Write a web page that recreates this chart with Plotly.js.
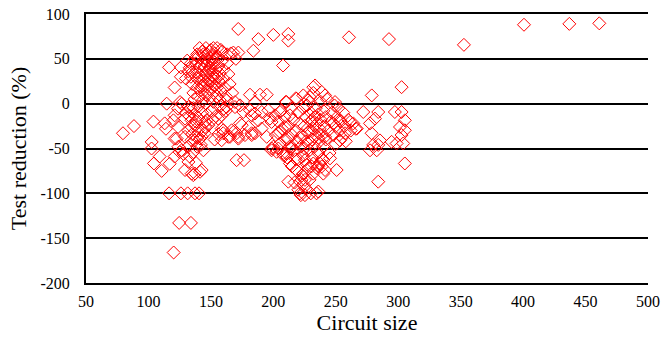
<!DOCTYPE html>
<html>
<head>
<meta charset="utf-8">
<script src="https://cdn.plot.ly/plotly-3.0.1.min.js"></script>
<style>html,body{margin:0;padding:0;background:#fff}#chart{width:664px;height:337px}</style>
</head>
<body>
<div id="chart"></div>
<script>
// [circuit size, test reduction %]
const leftScatter = [[79.6,-33],[88.4,-25],[102.5,-50],[104,-20],[104.4,-66.7],[109,-59],[110.6,-75],[113,-22],[114,-28],[116.5,-100],[117,-67],[121,-39],[121,-59],[125,-54],[126,-100],[120.2,-166],[124.6,-133],[134,-133],[116.5,40.5],[126,40.5],[121,18],[126,30],[114.6,0],[126.6,0],[121,-13],[102.6,-42.7],[120,-18.6],[123.7,-26],[129.3,-16.7],[134.5,-18.6],[137.3,-24],[143.9,-29.7],[146.6,-18.6],[134.5,-40.8],[141.3,-38.9],[129.3,-37],[122.6,-39],[126.6,-52],[129.3,-74],[134.6,-78],[137.3,-78],[141.3,-76],[142.6,-74],[132,-65],[133,-59],[128,-56],[124,-48],[131.7,-48],[137,-41],[142.6,-37],[145.3,-26],[134.6,-26],[139.6,-30],[131.4,-100],[137.3,-100],[140.5,-100],[135.9,-79.7],[123.7,-5.6],[132,-3.8],[125.3,1.8],[158.6,-27.8],[155.9,-16.7],[162.6,-3.8],[169.3,-3.8],[166.6,-29.7],[164,-37],[170.6,-33],[158.6,-40.8],[162.6,3.7],[169.3,1.8]];
const leftDense = [[130,-10],[132,-30],[133,-14],[135,-34],[137,-12],[138,-20],[139,-38],[140,-16],[142,-46],[143,-10],[145,-33],[147,-12],[148,-24],[150,-8],[151,-18],[153,-40],[154,-14],[156,-34],[136,-54],[144,-52],[138,-66],[139,-48],[134,-5]];
const upperCluster = [[131,48],[133,40],[134,30],[135,22],[136,12],[137,5],[138,45],[138,35],[139,28],[139,18],[140,8],[140,52],[141,42],[141,32],[142,24],[142,15],[143,3],[143,58],[144,48],[144,38],[145,30],[145,20],[146,10],[146,0],[147,55],[147,44],[148,36],[148,26],[149,16],[149,6],[150,60],[150,50],[150,40],[151,32],[151,22],[152,12],[152,2],[153,56],[153,46],[154,38],[154,28],[155,18],[155,8],[156,52],[156,42],[157,34],[157,24],[158,14],[158,-2],[159,58],[159,48],[160,38],[160,28],[161,18],[162,8],[163,55],[163,45],[164,33],[165,22],[166,56],[167,12],[168,57],[170,50],[172,57],[144,55],[146,62],[149,58],[152,62],[155,62],[158,60],[137,50],[135,35],[136,-5],[140,-3],[143,20],[147,14],[150,25],[153,20],[156,30],[145,42],[148,48],[151,45],[154,52],[157,4],[160,-6],[162,-8],[141,62],[139,55],[134,45],[132,36],[130,28],[146,34],[149,40],[152,30],[147,22],[151,52],[144,26]];
const middleScatter = [[171.9,83.3],[188,72],[184,59],[200,76.7],[212,77.8],[212,70.3],[207.8,42.6],[181.3,10],[189.3,10],[194.7,10],[185.3,1.8],[210.6,1.8],[218.6,5.6],[224,9.2],[232,18.4],[229.3,7.3],[201.3,-13],[205.3,-9.3],[197.3,-16.7],[182.7,-13],[176,-9.3],[173.3,-1.9],[158.6,-13],[145.3,-20.4],[159.9,-29.7],[168,-31.5],[174.7,-24],[185.3,-33],[190.6,-27.8],[194.7,-37],[205.3,-31.5],[213.3,-13],[170.6,-63],[176.5,-63],[159.9,-33],[165.3,-37],[172,-39],[177.3,-35],[182.7,-35],[198.7,-50],[204,-50],[210.6,-55.6],[213.3,-66.7],[212,-87],[221.3,-87],[225.3,-85],[221.3,-100],[225.3,-102],[234.6,-100],[218.6,-74],[224,-78],[228,-72],[232,-66.7],[236,-70],[181.3,-7.4],[185.3,-11],[190.7,-9.3],[196,-7.4],[173.3,-22],[180,-26],[188,-18.6],[198.6,-20.4],[171.9,-37],[182.6,-33],[204,-33],[209.3,-26],[212,-39],[214.6,-48],[198.6,-52],[202.6,-53.7],[208,-57.4],[220,-96],[222.6,-85],[233.4,20.3],[238.8,13],[241.4,-74],[237.3,-66.7],[230.6,-70],[225.3,-63],[245.4,-61]];
const rightDense = [[200,-48],[202,-35],[204,-20],[205,-45],[206,-8],[207,-28],[208,-55],[209,-15],[210,-40],[210,2],[211,-60],[212,-25],[213,-48],[214,-5],[215,-35],[215,-70],[216,-18],[217,-52],[218,-30],[218,6],[219,-42],[220,-10],[220,-62],[221,-22],[222,-48],[223,-35],[223,-80],[224,-5],[224,-58],[225,-25],[226,-42],[226,-15],[227,-68],[228,-32],[228,4],[229,-52],[230,-20],[230,-10],[231,-40],[231,-60],[232,-28],[232,12],[233,-15],[233,-48],[234,-35],[234,-5],[235,-22],[235,-72],[236,-55],[236,-12],[237,-42],[237,-28],[238,2],[238,-18],[239,-35],[239,-62],[240,-8],[240,-48],[241,-25],[242,-15],[242,-40],[243,5],[244,-30],[245,-55],[246,-20],[247,-10],[248,-35],[249,-2],[250,-25],[250,-45],[251,-15],[252,-5],[253,-30],[254,-20],[255,-38],[256,-10],[257,-25],[258,-42],[260,-18],[262,-30],[264,-22],[266,-28],[227,-2],[229,-30],[233,-25],[236,-38],[231,-18],[228,-45],[225,-50],[221,-38],[218,-62],[214,-50],[219,-75],[224,-90],[229,-85],[232,-78],[226,-95],[217,-88],[222,-102],[230,-100],[236,-98],[240,-78]];
const rightScatter = [[302.7,18.4],[278.8,9.2],[272,-9.3],[284,-9.3],[281.4,-16.7],[277.4,-22],[278.7,-33],[285.4,-41],[280,-46],[277.4,-52],[282.8,-52],[284,-46],[297.3,-9.3],[302.7,-9.3],[305.3,-18.6],[301.4,-26],[305.3,-29.7],[302.7,-35],[294.7,-42.6],[298.7,-44.4],[304,-44.4],[305.3,-66.7],[284,-87],[250.7,-74],[240,-63],[238.8,-70],[266.8,-27.8],[261.4,-20.4],[253.4,-18.6],[249.4,1.8],[241.4,9.2],[248,-22],[253.4,-41],[257.4,-33],[241.4,-37],[260.6,74],[292.6,72],[352.6,65.6],[400.7,88],[437,89],[461,89.6]];

const xTickVals = [50,100,150,200,250,300,350,400,450,500];
const xTickText = ["50","100","150","200","250","300","350","400","450","500"];
const yTickVals = [-200,-150,-100,-50,0,50,100];
const yTickText = ["-200","-150","-100","-50","0","50","100"];

const allPts = [].concat(leftScatter, leftDense, upperCluster, middleScatter, rightDense, rightScatter);
const circuitSize = allPts.map(p => p[0]);
const testReduction = allPts.map(p => p[1]);

const FONT = "Liberation Serif";

Plotly.newPlot('chart', [{
  type: 'scatter', mode: 'markers',
  x: circuitSize, y: testReduction,
  marker: {symbol: 'diamond-open', size: 10, color: '#ff0000', line: {width: 1, color: '#ff0000'}},
  showlegend: false, hoverinfo: 'skip'
}], {
  width: 664, height: 337,
  margin: {l: 86, r: 16, t: 14, b: 54},
  paper_bgcolor: '#fff', plot_bgcolor: '#fff',
  font: {family: FONT, color: '#000', size: 16},
  xaxis: {
    range: [50, 500], tickmode: 'array', tickvals: xTickVals, ticktext: xTickText,
    showgrid: false, zeroline: false,
    showline: true, mirror: true, linecolor: '#000', linewidth: 2,
    ticks: 'outside', ticklen: 3, tickcolor: 'rgba(0,0,0,0)',
    tickfont: {family: FONT, size: 16, color: '#000'},
    title: {text: 'Circuit size', font: {family: FONT, size: 22, color: '#000'}, standoff: 4}
  },
  yaxis: {
    range: [-200, 100], tickmode: 'array', tickvals: yTickVals, ticktext: yTickText,
    showgrid: true, gridcolor: '#000', gridwidth: 2, zeroline: false,
    showline: true, linecolor: '#000', linewidth: 2,
    ticks: 'outside', ticklen: 11, tickcolor: 'rgba(0,0,0,0)',
    tickfont: {family: FONT, size: 16, color: '#000'},
    title: {text: 'Test reduction (%)', font: {family: FONT, size: 22, color: '#000'}, standoff: 8}
  }
}, {staticPlot: true});
</script>
</body>
</html>
